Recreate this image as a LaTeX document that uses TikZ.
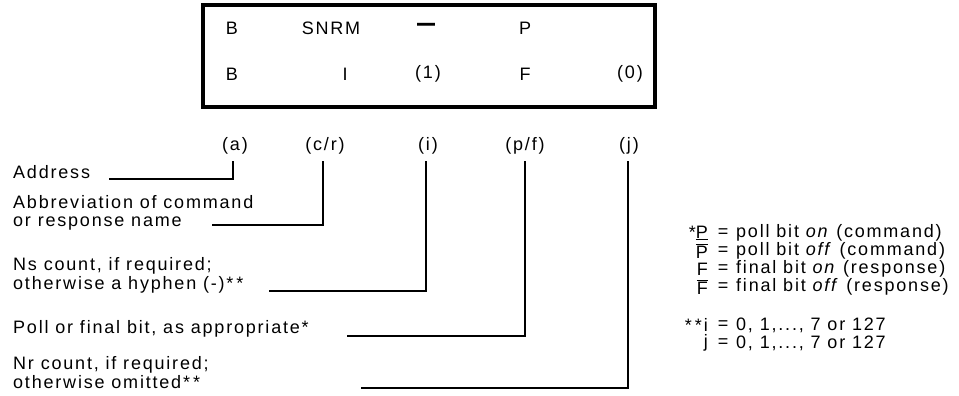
\documentclass[tikz,border=0pt]{standalone}
\usepackage{fontspec}
\usepackage{graphicx}
\setmainfont{Liberation Sans}[LetterSpace=10]
\begin{document}
\begin{tikzpicture}[x=1pt,y=-1pt,
  txt/.style={font=\fontsize{18}{18}\selectfont, inner sep=0pt},
  lefttxt/.style={txt, anchor=west, align=left},
  twoline/.style={txt, anchor=north west, align=left},
  conn/.style={line width=1.9pt, line cap=rect},
  frame/.style={draw, line width=3.4pt, inner sep=0pt},
  sym/.style={txt, anchor=east},
  eq/.style={txt},
  desc/.style={txt, anchor=west}]
\useasboundingbox (0,0) rectangle (959,396);
% frame
\node[frame, minimum width=452pt, minimum height=102pt] (box) at (429,56) {};
% row 1
\node[txt] (r1b) at (232,28) {B};
\node[txt] (r1c) at (331,28) {SNRM};
\node[txt] (r1i) at (427,28) {\scalebox{1}[1.6]{\textbf{---}}};
\node[txt] (r1p) at (525,28) {P};
% row 2
\node[txt] (r2b) at (232,74) {B};
\node[txt] (r2c) at (345,74) {I};
\node[txt] (r2i) at (428,74) {(1)};
\node[txt] (r2p) at (525,74) {F};
\node[txt] (r2j) at (630,74) {(0)};
% field labels
\node[txt] (la) at (235,146) {(a)};
\node[txt] (lc) at (325,146) {(c/r)};
\node[txt] (li) at (428,146) {(i)};
\node[txt] (lp) at (525,146) {(p/f)};
\node[txt] (lj) at (629,146) {(j)};
% tops of the leader lines
\coordinate (ta) at (233,162);
\coordinate (tc) at (323,162);
\coordinate (ti) at (426,162);
\coordinate (tp) at (525,162);
\coordinate (tj) at (628,162);
% descriptions
\node[lefttxt] (addr) at (13,172) {Address};
\node[twoline] (abbr) at (13,195.4) {Abbreviation of command\\or response name};
\node[twoline] (ns) at (13,257.4) {Ns count, if required;\\[1pt]otherwise a hyphen (-)*\,*};
\node[lefttxt] (poll) at (13,329) {Poll or final bit, as appropriate*};
\node[twoline] (nr) at (13,356.4) {Nr count, if required;\\[1pt]otherwise omitted*\,*};
% leader line start points
\coordinate (sa) at (110,179);
\coordinate (sc) at (213,225);
\coordinate (si) at (270,291);
\coordinate (sp) at (348,336);
\coordinate (sj) at (362,388);
\draw[conn] (sa) -| (ta);
\draw[conn] (sc) -| (tc);
\draw[conn] (si) -| (ti);
\draw[conn] (sp) -| (tp);
\draw[conn] (sj) -| (tj);
% legend
\node[sym] (k1) at (708,233) {*\underline{P}};
\node[sym] (k2) at (708,251) {$\overline{\hbox{P}}$};
\node[sym] (k3) at (708,269) {F};
\node[sym] (k4) at (708,287) {$\overline{\hbox{F}}$};
\node[sym] (k5) at (708,325) {*\,*i};
\node[sym] (k6) at (708,343) {j};
\node[eq] (e1) at (723,233) {=};
\node[eq] (e2) at (723,251) {=};
\node[eq] (e3) at (723,269) {=};
\node[eq] (e4) at (723,287) {=};
\node[eq] (e5) at (723,325) {=};
\node[eq] (e6) at (723,343) {=};
\node[desc] (d1) at (736,233) {poll bit \textit{on} (command)};
\node[desc] (d2) at (736,251) {poll bit \textit{off} (command)};
\node[desc] (d3) at (736,269) {final bit \textit{on} (response)};
\node[desc] (d4) at (736,287) {final bit \textit{off} (response)};
\node[desc] (d5) at (736,325) {0, 1,..., 7 or 127};
\node[desc] (d6) at (736,343) {0, 1,..., 7 or 127};
\end{tikzpicture}
\end{document}
